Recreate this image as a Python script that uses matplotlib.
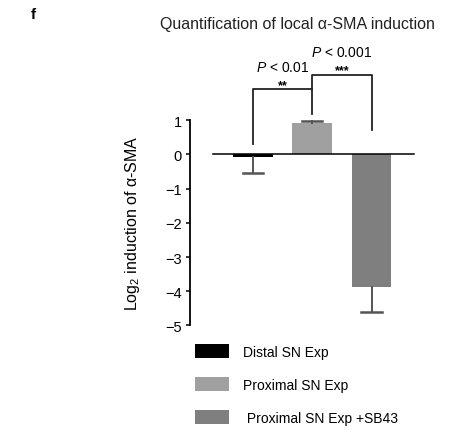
import matplotlib
matplotlib.use("Agg")
import matplotlib.pyplot as plt
from matplotlib.patches import Patch

plt.rcParams["font.family"] = ["Liberation Sans", "DejaVu Sans"]
plt.rcParams["mathtext.fontset"] = "custom"
plt.rcParams["mathtext.rm"] = "Liberation Sans"
plt.rcParams["mathtext.it"] = "Liberation Sans:italic"

# データ
groups = ["Distal SN Exp", "Proximal SN Exp", "Proximal SN Exp +SB43"]
legend_labels = ["Distal SN Exp", "Proximal SN Exp", " Proximal SN Exp +SB43"]
means = [-0.06, 0.91, -3.89]
err_lower = [0.48, 0.0, 0.72]
err_upper = [0.0, 0.08, 0.0]
bar_colors = ["#000000", "#a0a0a0", "#7f7f7f"]
y_ticks = [1, 0, -1, -2, -3, -4, -5]

# 有意差ブラケット: (左, 右, 上端, 左脚の下端, 右脚の下端, p値, 星)
brackets = [
    (0, 1, 1.92, 0.31, 1.19, "$P$ < 0.01", "**"),
    (1, 2, 2.34, 1.92, 0.73, "$P$ < 0.001", "***"),
]

W, H = 454, 435
fig = plt.figure(figsize=(W / 100, H / 100), dpi=100)
ax = fig.add_axes([190 / W, 0.234, 240 / W, 0.605])

x = list(range(len(groups)))
ax.bar(x, means, width=0.67, color=bar_colors, zorder=2)

# 片側のエラーバー（バー側にはキャップを付けない）
cap_half = 0.17
for xi, m, lo, up in zip(x, means, err_lower, err_upper):
    end = m - lo if lo > 0 else m + up
    ax.plot([xi, xi], [m, end], color="#555555", linewidth=1.4, zorder=3)
    ax.plot([xi - cap_half, xi + cap_half], [end, end], color="#555555",
            linewidth=1.8, zorder=3)

# ゼロライン
ax.plot([-0.675, 2.72], [0, 0], color="black", linewidth=1.1, zorder=4)

for left, right, top, yl, yr, ptext, stars in brackets:
    ax.plot([left, left, right, right], [yl, top, top, yr],
            color="#222222", linewidth=1.3, clip_on=False)
    mid = (left + right) / 2
    ax.text(mid, top + 0.65, ptext, ha="center", va="center", fontsize=10)
    ax.text(mid, top + 0.12, stars, ha="center", va="center",
            fontsize=9, fontweight="bold")

ax.set_xlim(-1.063, 2.987)
ax.set_ylim(-5.2, 2.5)
ax.set_xticks([])
ax.set_yticks(y_ticks)
ax.tick_params(axis="y", direction="out", length=3, width=1.1, pad=3, labelsize=10.5)
for s in ["top", "right", "bottom"]:
    ax.spines[s].set_visible(False)
ax.spines["left"].set_bounds(-5, 1)
ax.spines["left"].set_linewidth(1.3)
ax.set_ylabel("Log$_2$ induction of α-SMA", fontsize=11.5)
ax.yaxis.set_label_coords(-0.2, 0.419)

fig.text(297 / W, 1 - 25 / H, "Quantification of local α-SMA induction",
         ha="center", va="center", fontsize=11.5, color="#222222")
fig.text(33 / W, 1 - 15 / H, "f", ha="center", va="center",
         fontsize=11, fontweight="bold")

handles = [Patch(facecolor=c, edgecolor="none") for c in bar_colors]
fig.legend(handles, legend_labels, loc="upper left",
           bbox_to_anchor=(195 / W, 1 - 345 / H), frameon=False,
           fontsize=10, handlelength=2.45, handleheight=1.22,
           handletextpad=1.0, labelspacing=1.3, borderpad=0, borderaxespad=0)

fig.savefig("out.png", dpi=100)
